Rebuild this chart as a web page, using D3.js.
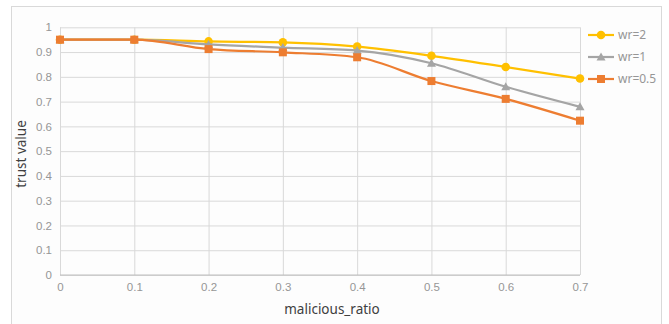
<!DOCTYPE html>
<html>
<head>
<meta charset="utf-8">
<script src="https://cdn.jsdelivr.net/npm/d3@7"></script>
<style>
  html, body { margin: 0; padding: 0; background: #ffffff; }
  svg { display: block; font-family: "Noto Sans", "Open Sans", sans-serif; }
</style>
</head>
<body>
<svg id="chart" width="669" height="324"></svg>
<script>
// Malicious ratio on the x axis
const ratios = [0, 0.1, 0.2, 0.3, 0.4, 0.5, 0.6, 0.7];
// Trust value for each weight ratio
const wr2 = [0.950, 0.950, 0.943, 0.939, 0.922, 0.885, 0.840, 0.793];
const wr1 = [0.950, 0.950, 0.931, 0.918, 0.906, 0.855, 0.760, 0.679];
const wr05 = [0.950, 0.950, 0.912, 0.899, 0.879, 0.783, 0.711, 0.623];
const seriesNames = ["wr=2", "wr=1", "wr=0.5"];
const yTicks = [0, 0.1, 0.2, 0.3, 0.4, 0.5, 0.6, 0.7, 0.8, 0.9, 1];
const xTicks = ratios;

const series = [
  { name: seriesNames[0], values: wr2, color: "#FFC000", marker: "circle" },
  { name: seriesNames[1], values: wr1, color: "#A5A5A5", marker: "triangle" },
  { name: seriesNames[2], values: wr05, color: "#ED7D31", marker: "square" }
];

const svg = d3.select("#chart");

// chart frame
svg.append("rect")
  .attr("x", 11.5).attr("y", 6.5)
  .attr("width", 650).attr("height", 330)
  .attr("fill", "#fdfdfd").attr("stroke", "#d9d9d9").attr("stroke-width", 1);

const plot = { left: 60, right: 580, top: 27.3, bottom: 275 };

const x = d3.scaleLinear().domain([0, 0.7]).range([plot.left, plot.right]);
const y = d3.scaleLinear().domain([0, 1]).range([plot.bottom, plot.top]);

// horizontal gridlines
svg.append("g")
  .attr("transform", `translate(${plot.left},0)`)
  .call(d3.axisLeft(y).tickValues(yTicks).tickSize(-(plot.right - plot.left)).tickFormat(d => d3.format("~g")(d)).tickPadding(8))
  .call(g => g.select(".domain").remove())
  .call(g => g.selectAll(".tick line").attr("stroke", "#d9d9d9").attr("stroke-width", 1))
  .call(g => g.selectAll(".tick text").attr("fill", "#969696").attr("font-size", 11.5));

// vertical gridlines
svg.append("g")
  .attr("transform", `translate(0,${plot.bottom})`)
  .call(d3.axisBottom(x).tickValues(xTicks).tickSize(-(plot.bottom - plot.top)).tickFormat(d => d3.format("~g")(d)).tickPadding(8))
  .call(g => g.select(".domain").remove())
  .call(g => g.selectAll(".tick line").attr("stroke", "#d9d9d9").attr("stroke-width", 1))
  .call(g => g.selectAll(".tick text").attr("fill", "#969696").attr("font-size", 11.5));

// x axis baseline
svg.append("line")
  .attr("x1", plot.left).attr("x2", plot.right)
  .attr("y1", plot.bottom).attr("y2", plot.bottom)
  .attr("stroke", "#bfbfbf").attr("stroke-width", 1);

// axis titles
svg.append("text")
  .attr("x", 332).attr("y", 314)
  .attr("text-anchor", "middle")
  .attr("fill", "#404040").attr("font-size", 13.5)
  .text("malicious_ratio");

svg.append("text")
  .attr("transform", "translate(26,154) rotate(-90)")
  .attr("text-anchor", "middle")
  .attr("fill", "#404040").attr("font-size", 13.5)
  .text("trust value");

const line = d3.line()
  .x((d, i) => x(ratios[i]))
  .y(d => y(d))
  .curve(d3.curveMonotoneX);

function drawMarker(g, type, cx, cy, color) {
  if (type === "circle") {
    g.append("circle").attr("cx", cx).attr("cy", cy).attr("r", 4.3).attr("fill", color);
  } else if (type === "square") {
    g.append("rect").attr("x", cx - 4).attr("y", cy - 4).attr("width", 8).attr("height", 8).attr("fill", color);
  } else {
    g.append("path")
      .attr("d", `M${cx},${cy - 4.5}L${cx + 4.5},${cy + 3.5}L${cx - 4.5},${cy + 3.5}Z`)
      .attr("fill", color);
  }
}

series.forEach(s => {
  const g = svg.append("g");
  g.append("path")
    .attr("d", line(s.values))
    .attr("fill", "none")
    .attr("stroke", s.color)
    .attr("stroke-width", 2.2)
    .attr("stroke-linejoin", "round");
  s.values.forEach((v, i) => drawMarker(g, s.marker, x(ratios[i]), y(v), s.color));
});

// legend
const legendY = [35, 57, 79];
series.forEach((s, i) => {
  const g = svg.append("g");
  const ly = legendY[i];
  g.append("line")
    .attr("x1", 588).attr("x2", 614).attr("y1", ly).attr("y2", ly)
    .attr("stroke", s.color).attr("stroke-width", 2.2);
  drawMarker(g, s.marker, 601, ly, s.color);
  g.append("text")
    .attr("x", 618).attr("y", ly)
    .attr("dy", "0.35em")
    .attr("fill", "#969696").attr("font-size", 12)
    .text(s.name);
});
</script>
</body>
</html>
